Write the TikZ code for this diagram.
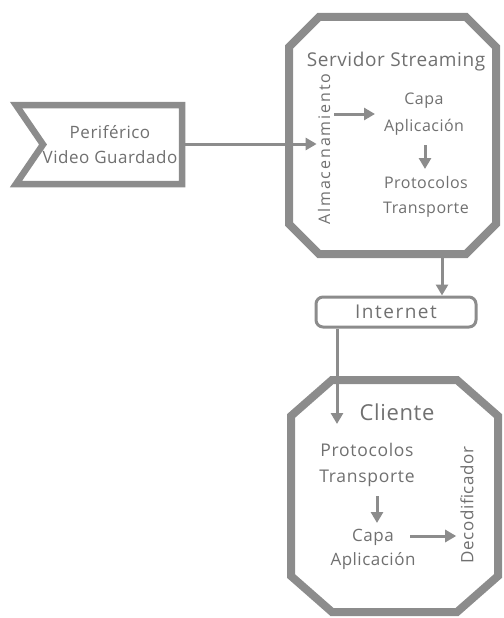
\documentclass[tikz,border=0pt]{standalone}
\usepackage{fontspec}
\setmainfont{Open Sans}
\usetikzlibrary{arrows.meta,calc}
\definecolor{edge}{HTML}{8C8C8C}
\definecolor{ink}{HTML}{707070}
\newcommand{\fs}[3]{\fontsize{#1}{#2}\selectfont\addfontfeatures{LetterSpace=#3}}
\tikzset{
  frame/.style={draw=edge, line width=8pt, line join=miter},
  label/.style={text=ink, align=center, inner sep=2pt},
  arr/.style={draw=edge, line width=3pt, -{Triangle[length=11pt,width=12pt]}},
}
\begin{document}
\begin{tikzpicture}[x=1pt,y=-1pt]
\useasboundingbox (0,0) rectangle (503,618);

% source: notched flag
\draw[draw=edge, line width=6.5pt, fill=white, line join=miter]
  (16,105) -- (182,105) -- (182,184) -- (16,184) -- (43,144.5) -- cycle;
\coordinate (flagE) at (182,144);
\node[label, font=\fs{17}{25}{3}] (peri) at (110,145) {Periférico\\Video Guardado};

% streaming server
\draw[frame] (319,17) -- (466,17) -- (496,47) -- (496,224) -- (466,254)
  -- (319,254) -- (289,224) -- (289,47) -- cycle;
\coordinate (srvB) at (442,254);
\node[label, font=\fs{19}{22}{3}] (srvtitle) at (396,62) {Servidor Streaming};
\node[label, rotate=90, inner sep=1pt, font=\fs{16}{18}{12}] (alm) at (324,149) {Almacenamiento};
\node[label, font=\fs{16}{27}{3}] (capa1) at (424,114) {Capa\\Aplicación};
\node[label, font=\fs{16}{25}{3}] (proto1) at (426,197) {Protocolos\\Transporte};

% network
\node[draw=edge, line width=3pt, rounded corners=7pt, minimum width=160pt,
  minimum height=30pt, text=ink, font=\fs{19}{22}{8}] (inet) at (396,312) {Internet};

% client
\draw[frame] (332,380) -- (457,380) -- (498,416) -- (498,576) -- (457,612)
  -- (332,612) -- (291,576) -- (291,416) -- cycle;
\node[label, font=\fs{22}{24}{3}] (cliente) at (397,412) {Cliente};
\node[label, font=\fs{17.5}{26}{4}] (proto2) at (367,465) {Protocolos\\Transporte};
\node[label, font=\fs{17}{24}{3}] (capa2) at (373,549) {Capa\\Aplicación};
\node[label, rotate=90, inner sep=1pt, font=\fs{17}{19}{4}] (deco) at (467,505) {Decodificador};
\coordinate (cliIn) at (337,424);
\coordinate (capa2R) at (410,536);

% connectors
\draw[arr] (flagE) -- (alm.north |- flagE);
\draw[arr] ($(alm.south |- capa1)+(3,0)$) -- (375,114);
\draw[arr] (425,145) -- (425,169);
\draw[arr] (srvB) -- (srvB |- inet.north);
\draw[arr] (inet.south -| cliIn) -- (cliIn);
\draw[arr] (377,496) -- (377,523);
\draw[arr] (capa2R) -- ($(deco.north |- capa2R)+(-3,0)$);
\end{tikzpicture}
\end{document}
